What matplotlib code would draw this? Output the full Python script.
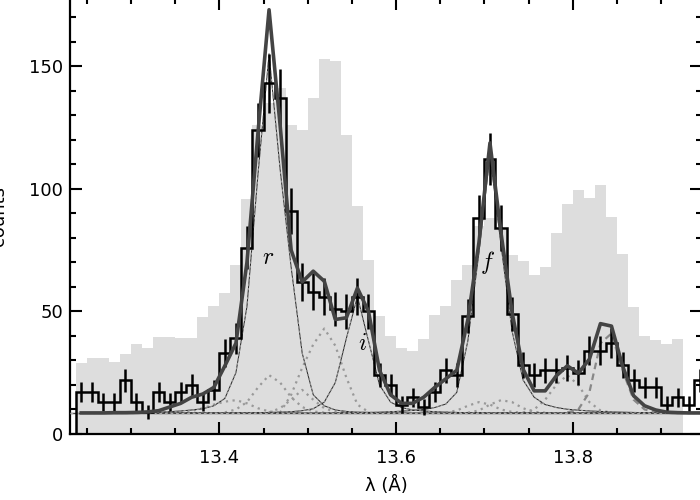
import numpy as np
import matplotlib
matplotlib.use('Agg')
import matplotlib.pyplot as plt
from matplotlib.ticker import MultipleLocator

# bin centres (Angstrom), bins are 0.0125 A wide
wave = 13.24375 + 0.0125 * np.arange(57)

# observed counts (black histogram) and error bars
counts = [17, 17, 13, 13, 22, 13, 9, 17, 13, 17,
          20, 13, 18, 33, 39, 76, 124, 143, 137, 91,
          62, 58, 56, 51, 50, 56, 50, 24, 20, 12,
          15, 11, 17, 26, 24, 48, 88, 112, 84, 49,
          28, 24, 26, 26, 27, 25, 34, 34, 37, 28,
          22, 19, 19, 12, 15, 12, 22]
err = [4.1, 4.1, 3.6, 3.6, 4.7, 3.6, 3.0, 4.1, 3.6, 4.1,
       4.5, 3.6, 4.2, 5.7, 6.2, 8.7, 11.1, 12.0, 11.7, 9.5,
       7.9, 7.6, 7.5, 7.1, 7.1, 7.5, 7.1, 4.9, 4.5, 3.5,
       3.9, 3.3, 4.1, 5.1, 4.9, 6.9, 9.4, 10.6, 9.2, 7.0,
       5.3, 4.9, 5.1, 5.1, 5.2, 5.0, 5.8, 5.8, 6.1, 5.3,
       4.7, 4.4, 4.4, 3.5, 3.9, 3.5, 4.7]

# comparison spectrum (light grey histogram)
ref = [29, 31, 31, 29.5, 32.5, 36.6, 35, 39.4, 39.4, 39,
       39, 47.6, 52.4, 57.6, 68.8, 96, 126, 135, 141, 126,
       124, 137, 153, 152, 122, 93, 71, 48, 40, 35,
       34, 38.6, 48.4, 52.4, 63, 68.8, 85, 88, 83, 73,
       70.7, 65, 68, 82, 93.8, 99.6, 96.2, 101.6, 88.5, 73.4,
       51.9, 40, 38.3, 36.6, 38.6]

# total model
model = [8.6, 8.6, 8.6, 8.7, 8.7, 8.8, 9.0, 9.5, 11, 12.5,
         15, 16.3, 19, 27.8, 37, 70, 123, 173, 126, 75,
         62, 66.4, 62.3, 46.7, 47.4, 59.5, 50, 26, 16, 12.5,
         12.5, 15, 19, 22.5, 26, 46.7, 78, 118.7, 82, 49.6,
         26.4, 17.6, 17.6, 23.7, 27.8, 24.8, 30.5, 45, 44, 27.8,
         15.6, 11.5, 9.8, 8.9, 8.7, 8.6, 8.6]

# r, i, f line components
line_r = [8.6, 8.6, 8.6, 8.6, 8.7, 8.7, 8.8, 8.9, 9.1, 9.4,
          9.8, 10.3, 11.5, 14.5, 25, 52, 106, 155, 108, 68,
          33, 16, 11.5, 9.8, 9.2, 8.9, 8.8, 8.7, 8.7, 8.6,
          8.6, 8.6, 8.6, 8.6, 8.6, 8.6, 8.6, 8.6, 8.6, 8.6,
          8.6, 8.6, 8.6, 8.6, 8.6, 8.6, 8.6, 8.6, 8.6, 8.6,
          8.6, 8.6, 8.6, 8.6, 8.6, 8.6, 8.6]
line_i = [8.6, 8.6, 8.6, 8.6, 8.6, 8.6, 8.6, 8.6, 8.6, 8.6,
          8.6, 8.6, 8.6, 8.6, 8.6, 8.7, 8.7, 8.8, 8.9, 9.1,
          9.5, 10.3, 13, 21, 39, 56, 38, 20, 13, 10.8,
          9.8, 9.4, 9.1, 8.9, 8.8, 8.7, 8.7, 8.6, 8.6, 8.6,
          8.6, 8.6, 8.6, 8.6, 8.6, 8.6, 8.6, 8.6, 8.6, 8.6,
          8.6, 8.6, 8.6, 8.6, 8.6, 8.6, 8.6]
line_f = [8.6, 8.6, 8.6, 8.6, 8.6, 8.6, 8.6, 8.6, 8.6, 8.6,
          8.6, 8.6, 8.6, 8.6, 8.6, 8.6, 8.6, 8.6, 8.6, 8.6,
          8.6, 8.6, 8.6, 8.7, 8.7, 8.8, 8.8, 8.9, 9.1, 9.3,
          9.6, 10.0, 10.8, 12.2, 17, 38, 74, 114, 77, 42,
          22, 15, 12, 10.8, 10.1, 9.7, 9.4, 9.2, 9.0, 8.9,
          8.8, 8.7, 8.7, 8.6, 8.6, 8.6, 8.6]

# satellite components (dotted), each starts at the bin given in the plot call
sat1 = [8.8, 10, 13, 19, 24, 21, 15, 11, 9.2, 8.7]
sat2 = [8.7, 16, 27, 36.5, 43, 36, 23, 12, 9]
sat3 = [8.7, 9.4, 10.5, 12, 13.2, 13.8, 12.5, 10.5, 9.2, 8.7]
sat4 = [8.8, 10.5, 14, 18, 14, 10.5, 9, 8.7]
sat5 = [8.7, 9.6, 11.5, 13, 12, 10, 9, 8.7]
sat6 = [8.7, 9.6, 12, 13.8, 13, 10.5, 9, 8.7]
sat7 = [8.8, 10, 14, 20, 24, 20, 13, 9.6, 8.7]
sat8 = [8.8, 10, 17, 37, 41, 26, 14, 10, 9, 8.7]

cont = 8.6

plt.rcParams['font.family'] = 'DejaVu Sans'
plt.rcParams['mathtext.fontset'] = 'cm'

fig = plt.figure(figsize=(7, 5), dpi=100)
ax = fig.add_axes([0.1, 0.132, 0.903, 0.872])

counts = np.array(counts)
err = np.array(err)
edges = np.append(wave - 0.00625, wave[-1] + 0.00625)

ax.bar(wave[:len(ref)], ref, width=0.0125, color='#dddddd', linewidth=0, zorder=1)

dot = dict(color='#999999', lw=1.6, ls=(0, (1, 2)), zorder=2)
ax.plot(wave[13:13 + len(sat1)], sat1, **dot)
ax.plot(wave[18:18 + len(sat2)], sat2, **dot)
ax.plot(wave[9:9 + len(sat3)], sat3, **dot)
ax.plot(wave[17:17 + len(sat4)], sat4, **dot)
ax.plot(wave[33:33 + len(sat5)], sat5, **dot)
ax.plot(wave[35:35 + len(sat6)], sat6, **dot)
ax.plot(wave[40:40 + len(sat7)], sat7, **dot)
ax.plot(wave[44:44 + len(sat8)], sat8, color='#888888', lw=1.6, ls=(0, (3, 2)), zorder=2)

for prof in (line_r, line_i, line_f):
    ax.plot(wave, prof, color='#222222', lw=0.7, zorder=3)
    ax.plot(wave, prof, color='#999999', lw=0.8, ls=(0, (2, 2)), zorder=3)

ax.axhline(cont, color='#444444', lw=1.0, zorder=3)
ax.axhline(cont, color='#aaaaaa', lw=1.0, ls=(0, (2, 2)), zorder=3)

ax.stairs(counts, edges, color='black', lw=1.8, zorder=4)
ax.vlines(wave, counts - err, counts + err, color='black', lw=1.8, zorder=4)

ax.plot(wave, model, color='#444444', lw=2.6, zorder=5)

tx = dict(fontsize=17, ha='center', va='center', zorder=6)
ax.text(13.455, 72, r'$r$', **tx)
ax.text(13.5615, 37, r'$i$', **tx)
ax.text(13.704, 70, r'$f$', **tx)

ax.set_xlim(13.2310, 13.9463)
ax.set_ylim(0, 177.8)
ax.xaxis.set_major_locator(MultipleLocator(0.2))
ax.xaxis.set_minor_locator(MultipleLocator(0.05))
ax.yaxis.set_major_locator(MultipleLocator(50))
ax.yaxis.set_minor_locator(MultipleLocator(10))
ax.tick_params(which='both', direction='in', top=True, right=True, width=1.5, labelsize=13)
ax.tick_params(which='major', length=8.5)
ax.tick_params(which='minor', length=4)
ax.tick_params(axis='x', pad=11)
ax.tick_params(axis='y', pad=5)
for s in ax.spines.values():
    s.set_linewidth(1.6)

ax.set_xlabel(u'\u03bb (\u00c5)', fontsize=13, labelpad=6)
ax.set_ylabel('counts', fontsize=13)
ax.yaxis.set_label_coords(-0.098, 0.5)

plt.savefig('out.png', dpi=100)
